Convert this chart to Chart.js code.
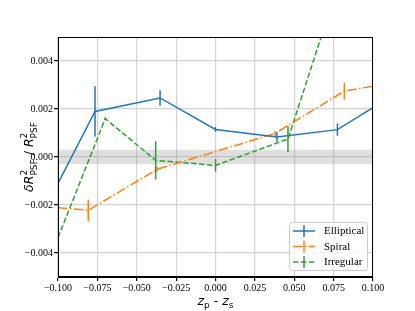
<!DOCTYPE html>
<html>
<head>
<meta charset="utf-8">
<script src="https://cdn.jsdelivr.net/npm/chart.js@4"></script>
<style>
  html, body { margin: 0; padding: 0; background: #fff; }
  canvas { display: block; }
</style>
</head>
<body>
<canvas id="chart" width="415" height="311"></canvas>
<script>
'use strict';

// ---------------------------------------------------------- //
// Data
// ---------------------------------------------------------- //
var xTicks = [-0.1, -0.075, -0.05, -0.025, 0, 0.025, 0.05, 0.075, 0.1];
var yTicks = [-0.004, -0.002, 0, 0.002, 0.004];
var bandHalf = 0.0003;

var ellipticalX   = [-0.1, -0.0765, -0.0352, 0.0, 0.039, 0.0774, 0.1];
var ellipticalY   = [-0.0011, 0.0019, 0.00246, 0.00115, 0.00083, 0.00114, 0.00206];
var ellipticalErr = [0, 0.00105, 0.00032, 0.0001, 0.00019, 0.00026, 0];

var spiralX   = [-0.1, -0.0808, -0.037, 0.0378, 0.0818, 0.1];
var spiralY   = [-0.00211, -0.00222, -0.00051, 0.00098, 0.00275, 0.00295];
var spiralErr = [0, 0.00045, 0.0001, 0.0001, 0.00035, 0];

var irregularX   = [-0.1, -0.07, -0.038, 0.0, 0.046, 0.08];
var irregularY   = [-0.00336, 0.0016, -0.00014, -0.00035, 0.00075, 0.0076];
var irregularErr = [0, 0.00005, 0.0008, 0.00026, 0.00054, 0];

function pts(xs, ys, es) {
    return xs.map(function(x, i) { return {x: x, y: ys[i], err: es[i]}; });
}

var dashDot = [9.6, 2.4, 1.5, 2.4];
var dashed = [5.5, 2.4];

var series = [
    {label: 'Elliptical', color: '#1f77b4', dash: [], data: pts(ellipticalX, ellipticalY, ellipticalErr)},
    {label: 'Spiral', color: '#ff7f0e', dash: dashDot, data: pts(spiralX, spiralY, spiralErr)},
    {label: 'Irregular', color: '#2ca02c', dash: dashed, data: pts(irregularX, irregularY, irregularErr)}
];

// ---------------------------------------------------------- //
// little helper for math-like labels
// parts flagged "stack" sit under the previous part (sup/sub pair)
// ---------------------------------------------------------- //
function drawRich(ctx, parts, x, y) {
    var total = 0, prev = null;
    parts.forEach(function(p) {
        ctx.font = p.font;
        p.w = ctx.measureText(p.t).width;
        if (p.stack && prev) {
            p.adv = Math.max(0, p.w - prev.w);
        } else {
            p.adv = p.w;
        }
        total += p.adv;
        prev = p;
    });
    var cx = x - total / 2;
    ctx.textBaseline = 'alphabetic';
    ctx.textAlign = 'left';
    prev = null;
    parts.forEach(function(p) {
        ctx.font = p.font;
        var px = (p.stack && prev) ? cx - prev.adv : cx;
        ctx.fillText(p.t, px, y + (p.dy || 0));
        cx += p.adv;
        prev = p;
    });
}

var MAIN = 'italic 12.5px "DejaVu Sans"';
var UP = '12.5px "DejaVu Sans"';
var SMALL = '9px "DejaVu Sans"';

// ---------------------------------------------------------- //
// plugins
// ---------------------------------------------------------- //
var decorations = {
    id: 'decorations',
    beforeDatasetsDraw: function(chart) {
        var ctx = chart.ctx, a = chart.chartArea, y = chart.scales.y;
        ctx.save();
        ctx.fillStyle = 'rgba(150,150,150,0.3)';
        var top = y.getPixelForValue(bandHalf), bot = y.getPixelForValue(-bandHalf);
        ctx.fillRect(a.left, top, a.right - a.left, bot - top);
        ctx.restore();
    },
    afterDatasetsDraw: function(chart) {
        var ctx = chart.ctx, a = chart.chartArea;
        var xs = chart.scales.x, ys = chart.scales.y;

        // error bars
        ctx.save();
        ctx.beginPath();
        ctx.rect(a.left, a.top, a.right - a.left, a.bottom - a.top);
        ctx.clip();
        chart.data.datasets.forEach(function(ds) {
            ctx.strokeStyle = ds.borderColor;
            ctx.lineWidth = 1.5;
            ds.data.forEach(function(p) {
                if (!p.err) return;
                var px = xs.getPixelForValue(p.x);
                ctx.beginPath();
                ctx.moveTo(px, ys.getPixelForValue(p.y - p.err));
                ctx.lineTo(px, ys.getPixelForValue(p.y + p.err));
                ctx.stroke();
            });
        });
        ctx.restore();

        // frame
        ctx.save();
        ctx.strokeStyle = '#000';
        ctx.lineWidth = 1;
        ctx.strokeRect(Math.round(a.left) + 0.5, Math.round(a.top) + 0.5,
            Math.round(a.right - a.left) - 1, Math.round(a.bottom - a.top) - 1);
        ctx.restore();

        // legend
        ctx.save();
        var bx = 289.5, by = 222.5, bw = 78, bh = 48;
        ctx.beginPath();
        ctx.roundRect(bx, by, bw, bh, 3);
        ctx.fillStyle = 'rgba(255,255,255,0.8)';
        ctx.fill();
        ctx.strokeStyle = '#cccccc';
        ctx.lineWidth = 1;
        ctx.stroke();
        chart.data.datasets.forEach(function(ds, i) {
            var ly = 231 + i * 15.5;
            ctx.strokeStyle = ds.borderColor;
            ctx.lineWidth = 1.5;
            ctx.setLineDash(ds.borderDash || []);
            ctx.beginPath();
            ctx.moveTo(293, ly);
            ctx.lineTo(315, ly);
            ctx.stroke();
            ctx.setLineDash([]);
            ctx.beginPath();
            ctx.moveTo(304, ly - 6);
            ctx.lineTo(304, ly + 6);
            ctx.stroke();
            ctx.fillStyle = '#000';
            ctx.font = '11px "Liberation Serif"';
            ctx.textAlign = 'left';
            ctx.textBaseline = 'middle';
            ctx.fillText(ds.label, 324, ly + 0.5);
        });
        ctx.restore();

        // axis titles
        ctx.save();
        ctx.fillStyle = '#000';
        drawRich(ctx, [
            {t: 'z', font: MAIN},
            {t: 'p', font: SMALL, dy: 3},
            {t: ' - ', font: UP},
            {t: 'z', font: MAIN},
            {t: 's', font: SMALL, dy: 3}
        ], (a.left + a.right) / 2, 305);
        ctx.translate(33, (a.top + a.bottom) / 2);
        ctx.rotate(-Math.PI / 2);
        drawRich(ctx, [
            {t: 'δR', font: MAIN},
            {t: '2', font: SMALL, dy: -6},
            {t: 'PSF', font: SMALL, dy: 3.5, stack: true},
            {t: ' / ', font: UP},
            {t: 'R', font: MAIN},
            {t: '2', font: SMALL, dy: -6},
            {t: 'PSF', font: SMALL, dy: 3.5, stack: true}
        ], 0, 0);
        ctx.restore();
    }
};

function fmt(v) {
    var s = Math.abs(v).toFixed(3);
    return (v < -1e-12 ? '\u2212' : '') + s;
}

// ---------------------------------------------------------- //
// chart
// ---------------------------------------------------------- //
var chart = new Chart(document.getElementById('chart'), {
    type: 'scatter',
    data: {
        datasets: series.map(function(s) {
            return {
                label: s.label,
                data: s.data,
                showLine: true,
                borderColor: s.color,
                backgroundColor: s.color,
                borderWidth: 1.5,
                borderDash: s.dash,
                pointRadius: 0,
                pointHoverRadius: 0,
                tension: 0
            };
        })
    },
    options: {
        responsive: false,
        animation: false,
        devicePixelRatio: 1,
        layout: {padding: {top: 37, right: 42, left: 0, bottom: 0}},
        plugins: {legend: {display: false}, tooltip: {enabled: false}},
        scales: {
            x: {
                type: 'linear',
                min: -0.1,
                max: 0.1,
                afterBuildTicks: function(scale) {
                    scale.ticks = xTicks.map(function(v) { return {value: v}; });
                },
                afterFit: function(scale) { scale.height = 34; },
                grid: {color: '#d3d3d3', lineWidth: 1.2, tickColor: '#000', tickLength: 4},
                border: {color: '#000'},
                ticks: {
                    color: '#000',
                    padding: 1,
                    maxRotation: 0,
                    font: {family: 'Liberation Serif', size: 10},
                    callback: function(v) { return fmt(v); }
                }
            },
            y: {
                type: 'linear',
                min: -0.005,
                max: 0.005,
                afterBuildTicks: function(scale) {
                    scale.ticks = yTicks.map(function(v) { return {value: v}; });
                },
                afterFit: function(scale) { scale.width = 58; },
                grid: {color: '#d3d3d3', lineWidth: 1.2, tickColor: '#000', tickLength: 4},
                border: {color: '#000'},
                ticks: {
                    color: '#000',
                    padding: 1,
                    font: {family: 'Liberation Serif', size: 10},
                    callback: function(v) { return fmt(v); }
                }
            }
        }
    },
    plugins: [decorations]
});
</script>
</body>
</html>
